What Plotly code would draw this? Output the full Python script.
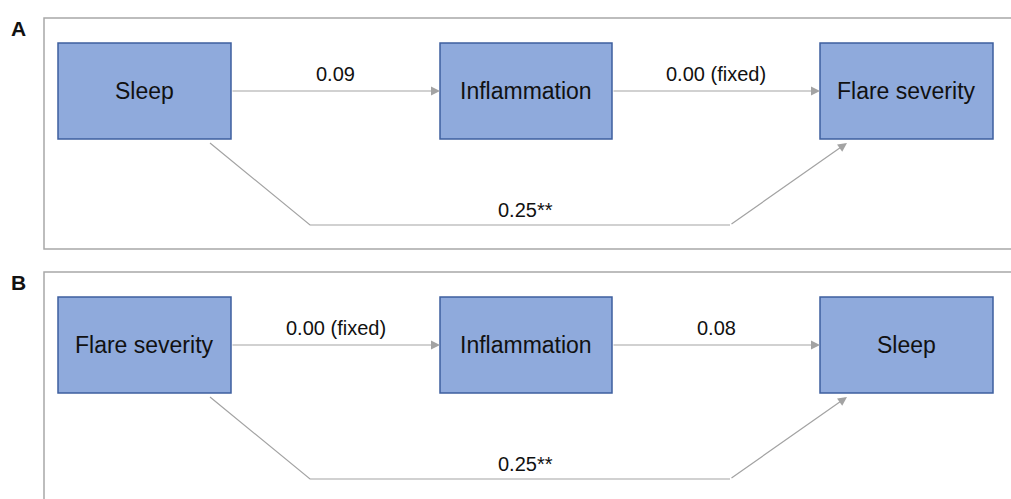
import plotly.graph_objects as go

# ---- data ----
panels = ["A", "B"]
nodes_A = ["Sleep", "Inflammation", "Flare severity"]
nodes_B = ["Flare severity", "Inflammation", "Sleep"]
paths_A = ["0.09", "0.00 (fixed)"]
paths_B = ["0.00 (fixed)", "0.08"]
direct_A = "0.25**"
direct_B = "0.25**"

# ---- layout (pixel geometry, in window pixels) ----
W, H = 1011, 499
box_x = [(58, 231), (440, 612), (820, 993)]
panel_top = [18, 272]
panel_bottom = [249, 520]
box_dy = (25, 121)           # box top/bottom offset from panel top
line_col = "#a3a3a3"
fill_col = "#8faadc"
edge_col = "#3e5f9e"
FONT = "Liberation Sans, Arial, Helvetica"

fig = go.Figure()
fig.add_trace(go.Scatter(x=[0, W], y=[0, H], mode="markers",
                         marker=dict(opacity=0), hoverinfo="skip", showlegend=False))

shapes, annots = [], []
all_nodes = [nodes_A, nodes_B]
all_paths = [paths_A, paths_B]
all_direct = [direct_A, direct_B]

for p, label in enumerate(panels):
    top = panel_top[p]
    shapes.append(dict(type="rect", x0=44, x1=1040, y0=top, y1=panel_bottom[p],
                       line=dict(color="#a8a8a8", width=1.5), fillcolor="rgba(0,0,0,0)",
                       layer="below"))
    annots.append(dict(x=18, y=top + 10, text=f"<b>{label}</b>", showarrow=False,
                       font=dict(size=21, color="#111", family=FONT),
                       xanchor="center", yanchor="middle"))
    by0, by1 = top + box_dy[0], top + box_dy[1]
    cy = (by0 + by1) / 2
    for i, name in enumerate(all_nodes[p]):
        x0, x1 = box_x[i]
        shapes.append(dict(type="rect", x0=x0, x1=x1, y0=by0, y1=by1,
                           fillcolor=fill_col, line=dict(color=edge_col, width=1.5)))
        annots.append(dict(x=(x0 + x1) / 2, y=cy, text=name, showarrow=False,
                           font=dict(size=23, color="#111", family=FONT)))
    for i, lab in enumerate(all_paths[p]):
        xs, xe = box_x[i][1], box_x[i + 1][0]
        annots.append(dict(x=xe, y=cy, ax=xs, ay=cy, xref="x", yref="y", axref="x", ayref="y",
                           showarrow=True, arrowhead=2, arrowsize=1.5, arrowwidth=1.2,
                           arrowcolor=line_col, text=""))
        annots.append(dict(x=(xs + xe) / 2, y=cy - 17, text=lab, showarrow=False,
                           font=dict(size=20, color="#111", family=FONT)))
    sx, sy = 210, by1 + 4
    bx1, bx2, byy = 310, 730, top + 207
    ex, ey = 847, by1 + 4
    shapes.append(dict(type="path", path=f"M {sx},{sy} L {bx1},{byy} L {bx2},{byy}",
                       line=dict(color=line_col, width=1.2)))
    annots.append(dict(x=ex, y=ey, ax=bx2, ay=byy, xref="x", yref="y", axref="x", ayref="y",
                       showarrow=True, arrowhead=2, arrowsize=1.5, arrowwidth=1.2,
                       arrowcolor=line_col, text=""))
    annots.append(dict(x=525, y=byy - 15, text=all_direct[p], showarrow=False,
                       font=dict(size=20, color="#111", family=FONT)))

fig.update_layout(
    width=W, height=H, margin=dict(l=0, r=0, t=0, b=0),
    paper_bgcolor="white", plot_bgcolor="white",
    xaxis=dict(range=[0, W], visible=False, fixedrange=True),
    yaxis=dict(range=[H, 0], visible=False, fixedrange=True),
    shapes=shapes, annotations=annots, showlegend=False,
)
fig.write_html(
    "out.html",
    config={"displayModeBar": False},
    post_script="document.body.style.margin='0';document.body.style.overflow='hidden';",
)
